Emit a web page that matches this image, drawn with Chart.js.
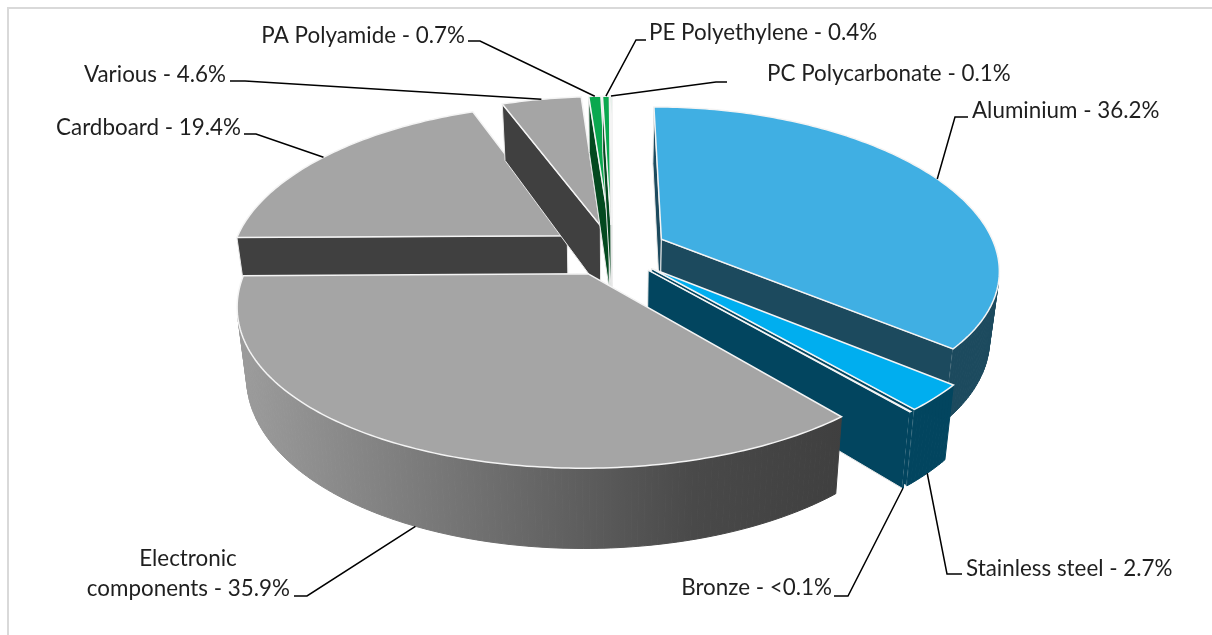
<!DOCTYPE html>
<html>
<head>
<meta charset="utf-8">
<title>Materials</title>
<script src="https://cdn.jsdelivr.net/npm/chart.js@4"></script>
<style>
  html, body { margin: 0; padding: 0; background: #fff; }
  #wrap { width: 1212px; height: 635px; }
</style>
</head>
<body>
<div id="wrap"><canvas id="materialsChart" width="1212" height="635"></canvas></div>
<script>
const categories = ["Aluminium", "Stainless steel", "Bronze", "Electronic components", "Cardboard", "Various", "PA Polyamide", "PE Polyethylene", "PC Polycarbonate"];
const shares = [36.2, 2.7, 0.05, 35.9, 19.4, 4.6, 0.7, 0.4, 0.1];
const shareLabels = ["36.2%", "2.7%", "<0.1%", "35.9%", "19.4%", "4.6%", "0.7%", "0.4%", "0.1%"];

const topColors = ["#40afe3", "#00aeef", "#00aeef", "#a5a5a5", "#a5a5a5", "#a5a5a5", "#0aa84f", "#0aa84f", "#6fcf97"];
const wallColors = ["#1c4a5e", "#02455f", "#02455f", "#404040", "#404040", "#404040", "#03491f", "#03491f", "#03491f"];
const drawOrder = [4, 5, 6, 7, 8, 0, 1, 2, 3];

// fake 3D: flat pie plane pushed through a simple perspective
const view = { rx: 335, ry: 156, perspX: 0.18, perspY: 0.155, depth: 66, shrink: 0.975 };

// text position, elbow of the leader line, and which level of the slice it hits
const labelLayout = [
  { lines: ["Aluminium - 36.2%"], x: 972, y: 111, align: "left", elbow: [[968, 117], [955, 117]], bottom: false },
  { lines: ["Stainless steel - 2.7%"], x: 966, y: 569, align: "left", elbow: [[962, 574], [947, 574]], bottom: true },
  { lines: ["Bronze - <0.1%"], x: 832, y: 588, align: "right", elbow: [[834, 596], [848, 596]], bottom: true },
  { lines: ["Electronic", "components - 35.9%"], x: 290, y: 589, align: "right", elbow: [[294, 596], [307, 596]], bottom: true },
  { lines: ["Cardboard - 19.4%"], x: 241, y: 128, align: "right", elbow: [[244, 134], [256, 134]], bottom: false },
  { lines: ["Various - 4.6%"], x: 226, y: 75, align: "right", elbow: [[230, 81], [245, 81]], bottom: false },
  { lines: ["PA Polyamide - 0.7%"], x: 465, y: 36, align: "right", elbow: [[468, 41], [480, 41]], bottom: false },
  { lines: ["PE Polyethylene - 0.4%"], x: 649, y: 33, align: "left", elbow: [[646, 40], [636, 40]], bottom: false },
  { lines: ["PC Polycarbonate - 0.1%"], x: 767, y: 74, align: "left", elbow: [[727, 82], [716, 82]], bottom: false }
];

function project(arc, cosA, sinA, radial, low) {
  const r = arc.outerRadius;
  const mid = (arc.startAngle + arc.endAngle) / 2;
  const off = arc.options.offset;
  const X = (radial * r * cosA + off * Math.cos(mid)) / r;
  const Y = (radial * r * sinA + off * Math.sin(mid)) / r;
  const sx = 1 / (1 - view.perspX * Y);
  const sy = 1 / (1 - view.perspY * Y);
  let x = view.rx * X * sx;
  let y = view.ry * Y * sy;
  if (low) {
    x *= view.shrink;
    y += view.depth * sy;
  }
  return [arc.x + x, arc.y + y];
}

function rimPoint(arc, a, low) {
  return project(arc, Math.cos(a), Math.sin(a), 1, low);
}

function tracePath(ctx, pts) {
  ctx.beginPath();
  pts.forEach((p, i) => i ? ctx.lineTo(p[0], p[1]) : ctx.moveTo(p[0], p[1]));
  ctx.closePath();
}

function facesViewer(pts) {
  let area = 0;
  pts.forEach((p, i) => {
    const q = pts[(i + 1) % pts.length];
    area += p[0] * q[1] - q[0] * p[1];
  });
  return area < 0;
}

function drawSlice(ctx, arc, i) {
  const steps = Math.max(2, Math.ceil((arc.endAngle - arc.startAngle) * 60));
  const rim = [], rimLow = [];
  for (let n = 0; n <= steps; n++) {
    const a = arc.startAngle + (arc.endAngle - arc.startAngle) * n / steps;
    rim.push(rimPoint(arc, a, false));
    rimLow.push(rimPoint(arc, a, true));
  }
  const c = project(arc, 0, 0, 0, false);
  const cLow = project(arc, 0, 0, 0, true);

  // the two cut faces
  [[c, rim[0], rimLow[0], cLow], [rim[steps], c, cLow, rimLow[steps]]].forEach(q => {
    if (!facesViewer(q)) return;
    tracePath(ctx, q);
    ctx.fillStyle = wallColors[i];
    ctx.fill();
    ctx.strokeStyle = "#e8e8e8";
    ctx.lineWidth = 1;
    ctx.stroke();
  });

  // curved outer wall
  let wallFill = wallColors[i];
  if (i === 3) {
    wallFill = ctx.createLinearGradient(240, 0, 845, 0);
    wallFill.addColorStop(0, "#9c9c9c");
    wallFill.addColorStop(0.75, "#494949");
    wallFill.addColorStop(1, "#3f3f3f");
  }
  for (let n = 0; n < steps; n++) {
    const q = [rim[n], rim[n + 1], rimLow[n + 1], rimLow[n]];
    if (!facesViewer(q)) continue;
    tracePath(ctx, q);
    ctx.fillStyle = wallFill;
    ctx.strokeStyle = wallFill;
    ctx.lineWidth = 1;
    ctx.fill();
    ctx.stroke();
  }

  // top face
  tracePath(ctx, [c].concat(rim));
  ctx.fillStyle = topColors[i];
  ctx.strokeStyle = "#f4f4f4";
  ctx.lineWidth = 1.5;
  ctx.fill();
  ctx.stroke();
}

function drawLabels(ctx, arcs) {
  ctx.font = "22.4px Lato";
  ctx.textBaseline = "alphabetic";
  labelLayout.forEach((lab, i) => {
    const arc = arcs[i];
    const tip = rimPoint(arc, (arc.startAngle + arc.endAngle) / 2, lab.bottom);
    ctx.beginPath();
    ctx.moveTo(lab.elbow[0][0], lab.elbow[0][1]);
    ctx.lineTo(lab.elbow[1][0], lab.elbow[1][1]);
    ctx.lineTo(tip[0], tip[1]);
    ctx.strokeStyle = "#000";
    ctx.lineWidth = 1.5;
    ctx.stroke();

    ctx.fillStyle = "#1f1f1f";
    lab.lines.forEach((line, n) => {
      const back = lab.lines.length - 1 - n;
      // first line of a two line label sits centred over the second one
      const x = back && lab.align === "right" ? lab.x - 102 : lab.x;
      ctx.textAlign = back ? "center" : lab.align;
      ctx.fillText(line, x, lab.y + 7 - back * 30);
    });
  });
}

const pseudo3d = {
  id: "pseudo3d",
  beforeDatasetsDraw() {
    return false;
  },
  afterDraw(chart) {
    const ctx = chart.ctx;
    const arcs = chart.getDatasetMeta(0).data;
    ctx.save();
    ctx.fillStyle = "#d9d9d9";
    ctx.fillRect(7, 7, 1205, 2);
    ctx.fillRect(7, 7, 2, 628);
    drawOrder.forEach(i => drawSlice(ctx, arcs[i], i));
    drawLabels(ctx, arcs);
    ctx.restore();
  }
};

new Chart(document.getElementById("materialsChart").getContext("2d"), {
  type: "pie",
  data: {
    labels: categories,
    datasets: [{
      data: shares,
      backgroundColor: topColors,
      borderWidth: 0,
      offset: 38
    }]
  },
  options: {
    responsive: false,
    animation: false,
    layout: { padding: { left: 12, bottom: 135 } },
    plugins: { legend: { display: false }, tooltip: { enabled: false } }
  },
  plugins: [pseudo3d]
});
</script>
</body>
</html>
